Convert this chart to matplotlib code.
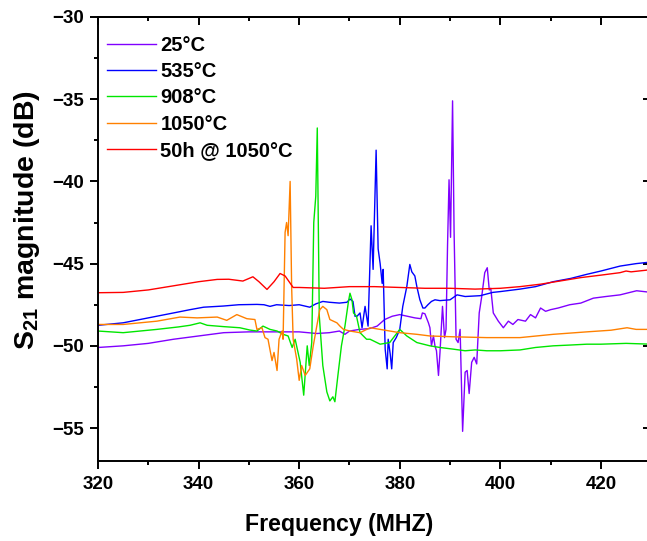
import matplotlib
matplotlib.use("Agg")
import matplotlib.pyplot as plt
from matplotlib.ticker import MultipleLocator

plt.rcParams['font.family'] = ['Liberation Sans', 'DejaVu Sans']
plt.rcParams['font.weight'] = 'bold'
plt.rcParams['mathtext.fontset'] = 'custom'
plt.rcParams['mathtext.rm'] = 'Liberation Sans:bold'
plt.rcParams['mathtext.bf'] = 'Liberation Sans:bold'

# 25°C
f_25 = [320, 325, 330, 335, 340, 345, 350, 355, 360, 363.5, 366, 368, 369.1, 370, 372, 374,
        375.5, 377, 378.5, 380, 381.5, 383, 384.2, 384.5, 385, 385.7, 386, 386.3, 386.7, 387,
        387.3, 387.7, 388, 388.5, 388.9, 389.2, 389.5, 389.8, 390.1, 390.5, 390.8, 391.2, 391.6,
        392, 392.5, 393, 393.4, 393.8, 394.3, 394.8, 395.3, 395.8, 396.3, 396.9, 397.4, 397.8,
        398.1, 398.6, 399.6, 400.6, 401.6, 402.5, 403.5, 405, 406, 407, 408, 409, 410, 411.5,
        413.8, 416, 418.5, 421, 423.8, 427.1, 430]
db_25 = [-50.1, -50.0, -49.85, -49.6, -49.4, -49.2, -49.15, -49.15, -49.15, -49.25, -49.2, -49.1,
         -49.3, -49.1, -49.0, -48.95, -48.8, -48.4, -48.2, -48.1, -48.2, -48.3, -48.35, -48.0,
         -48.05, -48.6, -48.9, -50.0, -49.4, -50.0, -50.3, -51.8, -50.4, -47.6, -49.5, -49.0,
         -43.9, -39.9, -43.4, -35.1, -43.0, -49.6, -49.8, -49.0, -55.2, -51.6, -51.5, -52.9,
         -51.0, -50.7, -51.1, -48.0, -47.0, -45.55, -45.25, -46.6, -46.5, -48.0, -48.5, -48.9,
         -48.5, -48.7, -48.4, -48.5, -48.1, -48.3, -47.7, -47.9, -47.8, -47.7, -47.5, -47.4,
         -47.1, -47.0, -46.9, -46.65, -46.75]

# 535°C
f_535 = [320, 325, 330, 335, 338.3, 341, 344.9, 348, 351.6, 353, 354.2, 355.5, 358, 360, 362.1,
         363.3, 364.7, 366, 368, 369.5, 370.1, 370.7, 371.1, 371.5, 372.1, 372.5, 373.1, 373.7,
         374.3, 374.7, 375.3, 375.7, 376.1, 376.5, 376.7, 377.1, 377.5, 377.7, 378.1, 378.4,
         378.7, 379.3, 380.0, 380.6, 381.4, 382, 382.4, 383, 383.4, 384, 384.6, 385, 385.6,
         386.3, 387, 388, 390, 391.4, 393, 396, 398.5, 400, 403.9, 407, 410.5, 414, 417.2, 420,
         423.8, 427, 430]
db_535 = [-48.75, -48.6, -48.3, -48.0, -47.8, -47.65, -47.58, -47.5, -47.48, -47.5, -47.6, -47.5,
          -47.55, -47.5, -47.65, -47.45, -47.3, -47.35, -47.4, -47.35, -47.15, -47.3, -48.2,
          -48.2, -48.0, -48.9, -47.6, -48.8, -42.7, -45.35, -38.1, -44.1, -45.0, -46.2, -45.35,
          -50.2, -51.4, -49.6, -50.5, -51.4, -49.8, -49.5, -49.0, -47.6, -46.4, -45.05, -45.5,
          -45.75, -46.4, -47.2, -47.7, -47.7, -47.5, -47.3, -47.2, -47.25, -47.2, -46.9, -47.0,
          -46.95, -46.75, -46.7, -46.55, -46.4, -46.1, -45.9, -45.65, -45.45, -45.15, -45.0,
          -44.9]

# 908°C
f_908 = [320, 325, 331.7, 336, 338.3, 340.3, 341.7, 344.9, 348.2, 350.2, 351.6, 352.8, 354.2,
         355.6, 356.8, 357.8, 358.6, 359.2, 360.2, 360.9, 361.6, 362.0, 362.5, 362.9, 363.3,
         363.6, 364.0, 364.7, 365.5, 366.1, 366.7, 367.1, 367.7, 368.4, 369.1, 369.8, 370.1,
         370.5, 370.8, 371.4, 372.1, 373.4, 374.1, 376.1, 378, 380, 381.4, 383.4, 386, 388,
         390.6, 393, 395, 397.3, 400, 403.9, 407, 410.5, 414, 417.2, 420, 425, 430]
db_908 = [-49.1, -49.2, -49.0, -48.85, -48.75, -48.6, -48.75, -48.83, -48.9, -49.04, -49.1,
          -48.8, -49.0, -49.1, -49.3, -49.4, -50.1, -49.6, -51.0, -53.0, -50.0, -51.2, -49.8,
          -42.5, -40.9, -36.75, -48.2, -51.2, -52.8, -53.35, -53.1, -53.4, -51.8, -50.0, -48.8,
          -47.3, -46.8, -47.2, -48.0, -48.2, -49.2, -49.6, -49.6, -49.9, -49.8, -49.0, -49.4,
          -49.8, -50.0, -50.1, -50.2, -50.3, -50.25, -50.3, -50.3, -50.25, -50.1, -50.0, -49.95,
          -49.9, -49.9, -49.85, -49.9]

# 1050°C
f_1050 = [320, 325, 331.7, 336.3, 339.7, 343.7, 345.6, 347.6, 349.6, 351.2, 351.6, 352.6, 353.2,
          353.8, 354.6, 355.0, 355.6, 356.0, 356.6, 356.8, 357.2, 357.5, 357.8, 358.2, 358.5,
          358.8, 359.5, 360.0, 360.5, 361.2, 362.1, 362.8, 363.5, 364.1, 364.7, 365.5, 366.1,
          367.5, 368.1, 368.8, 370.1, 372.1, 374.1, 376.1, 380, 383.4, 386, 390.6, 397.3, 403.9,
          410.5, 417.2, 422, 425.2, 427, 430]
db_1050 = [-48.7, -48.7, -48.5, -48.25, -48.3, -48.25, -48.45, -48.1, -48.35, -48.4, -49.0,
           -48.9, -49.5, -49.6, -50.9, -50.4, -51.5, -49.6, -49.1, -49.6, -43.1, -42.5, -43.3,
           -40.0, -46.4, -49.6, -50.8, -52.1, -51.2, -51.8, -51.4, -50.0, -48.8, -47.8, -47.6,
           -47.8, -48.4, -48.6, -48.8, -49.0, -49.1, -49.2, -48.9, -49.0, -49.2, -49.3, -49.4,
           -49.45, -49.5, -49.5, -49.3, -49.15, -49.05, -48.9, -49.0, -49.0]

# 50h @ 1050°C
f_50h = [320, 325, 330, 335, 340, 343.7, 346, 348.8, 350.8, 352, 353.6, 355, 356.2, 357.2, 358.8,
         360, 365, 370, 375, 380, 385, 390, 395, 400, 403.9, 408, 411.8, 416, 420, 423.8, 425,
         426, 429, 430]
db_50h = [-46.77, -46.75, -46.6, -46.35, -46.1, -45.96, -45.95, -46.06, -45.8, -46.1, -46.57,
          -46.1, -45.6, -45.75, -46.45, -46.45, -46.5, -46.4, -46.4, -46.45, -46.5, -46.5,
          -46.55, -46.5, -46.4, -46.25, -46.06, -45.85, -45.7, -45.55, -45.45, -45.5, -45.4,
          -45.35]

series = [
    (f_25, db_25, '#8000ff', '25°C'),
    (f_535, db_535, '#0000ff', '535°C'),
    (f_908, db_908, '#00e600', '908°C'),
    (f_1050, db_1050, '#ff8000', '1050°C'),
    (f_50h, db_50h, '#ff0000', '50h @ 1050°C'),
]

fig = plt.figure(figsize=(6.47, 5.41), dpi=100)
ax = fig.add_axes([0.1515, 0.148, 0.855, 0.8206])

for f, db, c, lab in series:
    ax.plot(f, db, color=c, lw=1.0, label=lab)

ax.set_xlim(320, 430)
ax.set_ylim(-57, -30)
ax.xaxis.set_major_locator(MultipleLocator(20))
ax.xaxis.set_minor_locator(MultipleLocator(10))
ax.yaxis.set_major_locator(MultipleLocator(5))
ax.yaxis.set_minor_locator(MultipleLocator(2.5))
ax.tick_params(which='major', direction='out', length=6, width=1.4, labelsize=13.5, pad=4)
ax.tick_params(which='minor', direction='out', length=3, width=1.4)
ax.tick_params(axis='x', which='major', pad=5)
for lbl in ax.get_xticklabels() + ax.get_yticklabels():
    lbl.set_fontweight('bold')
for sp in ax.spines.values():
    sp.set_linewidth(1.4)

# inward ticks on the top and right sides
top = ax.secondary_xaxis('top')
top.xaxis.set_major_locator(MultipleLocator(20))
top.xaxis.set_minor_locator(MultipleLocator(10))
top.tick_params(which='major', direction='in', length=6, width=1.4, labeltop=False)
top.tick_params(which='minor', direction='in', length=3, width=1.4)
right = ax.secondary_yaxis('right')
right.yaxis.set_major_locator(MultipleLocator(5))
right.yaxis.set_minor_locator(MultipleLocator(2.5))
right.tick_params(which='major', direction='in', length=6, width=1.4, labelright=False)
right.tick_params(which='minor', direction='in', length=3, width=1.4)
for sec in (top, right):
    for sp in sec.spines.values():
        sp.set_linewidth(1.4)

ax.set_xlabel('Frequency (MHZ)', fontsize=16.7, fontweight='bold')
ax.xaxis.set_label_coords(0.436, -0.118)
ax.set_ylabel(r'S$_{21}$ magnitude (dB)', fontsize=20.5, fontweight='bold')
ax.yaxis.set_label_coords(-0.101, 0.543)

leg = ax.legend(loc='upper left', frameon=False, fontsize=14.5, handlelength=2.45,
                handletextpad=0.2, labelspacing=0.36, borderaxespad=0.25,
                borderpad=0.2, bbox_to_anchor=(0.0, 0.978))
for t in leg.get_texts():
    t.set_fontweight('bold')

fig.savefig('out.png', dpi=100)
